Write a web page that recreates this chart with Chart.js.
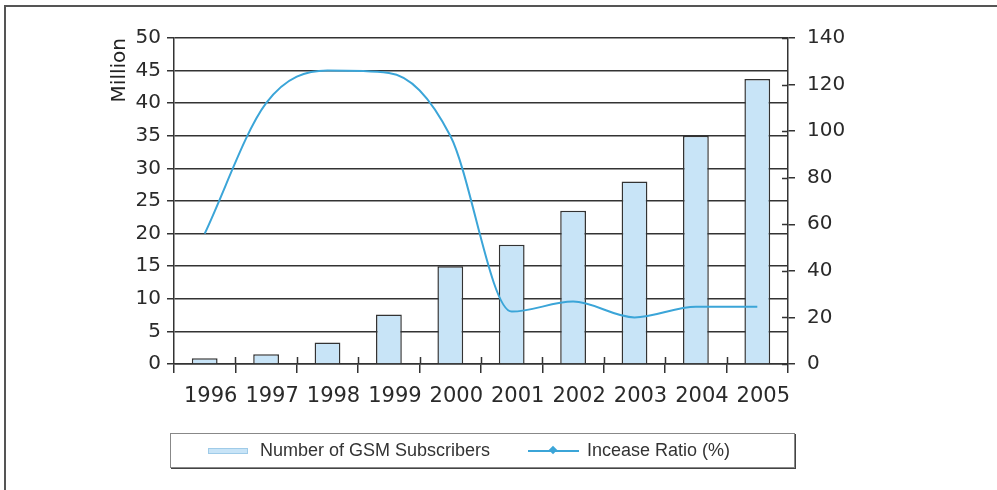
<!DOCTYPE html>
<html>
<head>
<meta charset="utf-8">
<script src="https://cdn.jsdelivr.net/npm/chart.js@4/dist/chart.umd.min.js"></script>
<style>
  html, body { margin: 0; padding: 0; background: #fff; }
  #wrap { position: relative; width: 997px; height: 490px; overflow: hidden; }
  #frame { position: absolute; left: 4px; top: 5px; width: 1100px; height: 600px;
           border-top: 2px solid #555; border-left: 2px solid #555; }
  #chart { position: absolute; left: 0; top: 0; }
  #legend { position: absolute; left: 170px; top: 433px; width: 623px; height: 33px;
            border: 1px solid #888; box-shadow: 1px 1px 0 #444;
            font-family: "Liberation Sans", Arial, sans-serif; font-size: 18px; color: #333; }
  #legend .sw-bar { position: absolute; left: 37px; top: 14px; width: 38px; height: 4px;
                    background: #c8e4f7; border: 1px solid #9fcbe8; }
  #legend .sw-line { position: absolute; left: 357px; top: 16px; width: 51px; height: 2px; background: #3ba5d8; }
  #legend .sw-dot { position: absolute; left: 379px; top: 13px; width: 6px; height: 6px;
                    background: #3ba5d8; transform: rotate(45deg); }
  #legend .lbl { position: absolute; top: 6px; white-space: nowrap; }
</style>
</head>
<body>
<div id="wrap">
  <div id="frame"></div>
  <canvas id="chart" width="997" height="490"></canvas>
  <div id="legend">
    <div class="sw-bar"></div><span class="lbl" style="left:89px">Number of GSM Subscribers</span>
    <div class="sw-line"></div><div class="sw-dot"></div><span class="lbl" style="left:416px">Incease Ratio (%)</span>
  </div>
</div>
<script>
// Years on the category axis
const years = ['1996', '1997', '1998', '1999', '2000', '2001', '2002', '2003', '2004', '2005'];
// GSM subscribers, millions (left axis)
const subscribers = [0.9, 1.5, 3.3, 7.6, 15.0, 18.3, 23.5, 28.0, 35.0, 43.7];
// Yearly increase ratio, percent (right axis)
const increaseRatio = [56, 112, 126, 125, 98, 22.5, 26.8, 20, 24.6, 24.6];
// Axis ranges and steps
const leftAxis = { min: 0, max: 50, step: 5 };
const rightAxis = { min: 0, max: 140, step: 20 };

const AXIS_COLOR = '#333';
const TICK_FONT = { family: 'DejaVu Sans', size: 20 };

// Short tick marks that cross into the plot on the x axis and the right axis
const crossTicks = {
  id: 'crossTicks',
  afterDraw(chart) {
    const { ctx, chartArea: a, scales } = chart;
    const x = scales.x, y1 = scales.y1;
    ctx.save();
    ctx.strokeStyle = AXIS_COLOR;
    ctx.lineWidth = 1.5;
    ctx.beginPath();
    for (let i = 1; i < years.length; i++) {
      const px = Math.round((x.getPixelForValue(i - 1) + x.getPixelForValue(i)) / 2) + 0.5;
      ctx.moveTo(px, a.bottom - 7);
      ctx.lineTo(px, a.bottom);
    }
    y1.ticks.forEach(t => {
      const py = Math.round(y1.getPixelForValue(t.value)) + 0.5;
      ctx.moveTo(a.right - 6, py);
      ctx.lineTo(a.right, py);
    });
    ctx.stroke();
    ctx.restore();
  }
};

new Chart(document.getElementById('chart'), {
  data: {
    labels: years,
    datasets: [
      {
        type: 'line',
        label: 'Incease Ratio (%)',
        data: increaseRatio,
        yAxisID: 'y1',
        borderColor: '#3ba5d8',
        borderWidth: 2,
        pointRadius: 0,
        cubicInterpolationMode: 'monotone',
        order: 0
      },
      {
        type: 'bar',
        label: 'Number of GSM Subscribers',
        data: subscribers,
        yAxisID: 'y',
        backgroundColor: '#c8e4f7',
        borderColor: '#333',
        borderWidth: 1.5,
        categoryPercentage: 1,
        barPercentage: 0.42,
        order: 1
      }
    ]
  },
  options: {
    responsive: false,
    animation: false,
    layout: { padding: { left: 100, right: 150, top: 38, bottom: 0 } },
    plugins: { legend: { display: false }, tooltip: { enabled: false } },
    scales: {
      x: {
        offset: true,
        grid: { offset: true, drawOnChartArea: false, tickLength: 9, color: AXIS_COLOR, lineWidth: 1.5 },
        border: { display: true, color: AXIS_COLOR, width: 1.5 },
        ticks: { font: { family: 'DejaVu Sans', size: 21 }, color: '#2a2a2a', padding: 11,
                 labelOffset: 6, maxRotation: 0, autoSkip: false },
        afterFit(s) { s.height = 126; }
      },
      y: {
        position: 'left',
        min: leftAxis.min, max: leftAxis.max,
        ticks: { stepSize: leftAxis.step, font: TICK_FONT, color: '#2a2a2a', padding: 6 },
        grid: { color: AXIS_COLOR, lineWidth: 1.5, tickLength: 7 },
        border: { color: AXIS_COLOR, width: 1.5 },
        title: { display: true, text: 'Million', align: 'end', color: '#222',
                 font: { family: 'DejaVu Sans', size: 20 }, padding: { top: 8, bottom: 0 } },
        afterFit(s) { s.width = 74; }
      },
      y1: {
        position: 'right',
        min: rightAxis.min, max: rightAxis.max,
        ticks: { stepSize: rightAxis.step, font: TICK_FONT, color: '#2a2a2a', padding: 12 },
        grid: { drawOnChartArea: false, color: AXIS_COLOR, lineWidth: 1.5, tickLength: 7 },
        border: { color: AXIS_COLOR, width: 1.5 },
        afterFit(s) { s.width = 59; }
      }
    }
  },
  plugins: [crossTicks]
});
</script>
</body>
</html>
